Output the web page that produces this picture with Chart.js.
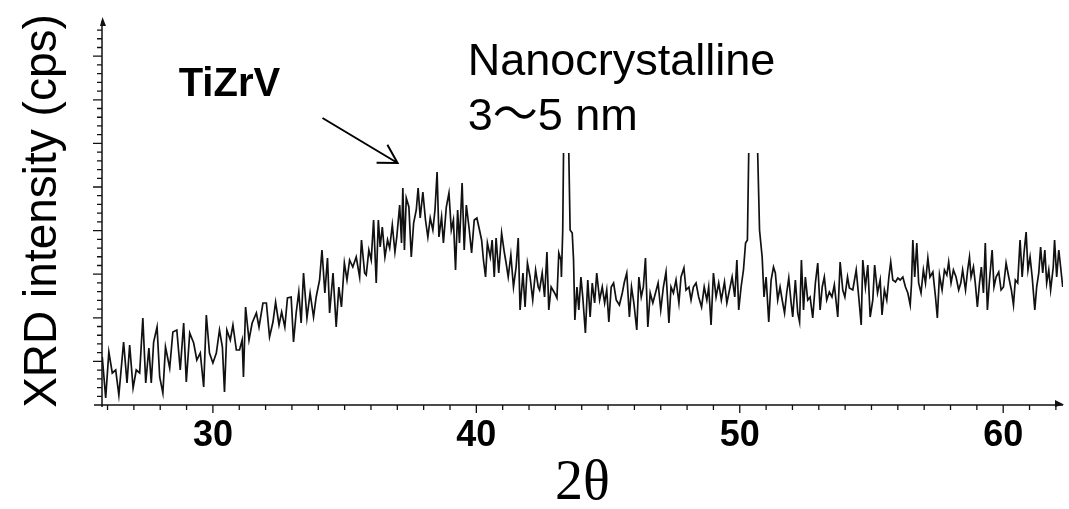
<!DOCTYPE html>
<html>
<head>
<meta charset="utf-8">
<script src="https://cdn.jsdelivr.net/npm/chart.js@4.4.1/dist/chart.umd.min.js"></script>
<style>
  html, body { margin: 0; padding: 0; background: #fff; }
  #wrap { width: 1069px; height: 509px; position: relative; }
</style>
</head>
<body>
<div id="wrap"><canvas id="c"></canvas></div>
<script>
// ---- data ----
const twoTheta = [
  25.80,25.93,26.05,26.18,26.31,26.43,26.61,26.74,26.84,26.97,27.09,27.22,27.34,27.45,27.57,27.66,27.75,27.88,27.98,28.10,
  28.20,28.36,28.48,28.63,28.76,28.89,28.99,29.12,29.27,29.39,29.52,29.65,29.75,29.87,30.00,30.13,30.25,30.36,30.44,30.53,
  30.66,30.76,30.89,31.01,31.11,31.16,31.24,31.37,31.49,31.65,31.75,31.90,32.03,32.15,32.28,32.38,32.51,32.61,32.73,32.83,
  32.97,33.06,33.16,33.26,33.35,33.44,33.57,33.69,33.82,33.92,34.05,34.14,34.25,34.35,34.43,34.56,34.68,34.78,34.88,34.99,
  35.09,35.19,35.31,35.44,35.57,35.64,35.76,
  35.82,35.92,36.01,36.10,36.20,36.28,36.35,36.43,36.53,36.63,36.71,36.81,36.91,36.98,37.09,37.16,37.21,37.27,37.34,37.44,
  37.53,37.62,37.72,37.79,37.87,37.97,38.07,38.16,38.25,38.35,38.43,38.51,38.58,38.68,38.75,38.86,38.96,39.05,39.13,39.21,
  39.29,39.36,39.46,39.54,39.62,39.72,39.82,39.92,40.02,40.12,40.20,40.27,40.35,40.42,40.53,40.60,40.68,40.75,40.85,40.96,
  41.06,41.13,41.21,41.31,41.41,41.51,41.59,41.66,41.77,41.85,41.94,42.04,42.14,42.25,42.35,
  42.40,42.50,42.59,42.68,42.75,42.84,42.97,43.06,43.13,43.21,43.23,43.28,43.31,43.41,43.51,43.56,43.64,43.69,43.74,43.82,
  43.89,43.97,44.04,44.14,44.23,44.32,44.40,44.49,44.57,44.68,44.78,44.87,44.95,45.03,45.12,45.21,45.31,45.43,45.54,45.62,
  45.71,45.81,45.89,45.98,46.09,46.17,46.26,46.34,46.42,46.51,46.60,46.70,46.80,46.90,47.00,47.10,47.20,47.31,47.39,47.48,
  47.58,47.69,47.77,47.88,47.96,48.07,48.15,48.24,48.34,48.44,48.55,48.65,48.75,48.82,48.91,49.00,49.10,49.20,49.30,49.42,
  49.51,49.61,49.71,49.81,49.89,49.96,50.05,50.14,50.22,50.29,50.34,50.51,50.68,50.75,
  50.85,50.92,51.00,51.10,51.19,51.28,51.35,51.44,51.53,51.61,51.70,51.78,51.86,51.95,52.01,52.11,52.20,52.27,52.34,52.42,
  52.49,52.58,52.67,52.77,52.87,52.96,53.05,53.13,53.21,53.30,53.40,53.50,53.59,53.72,53.81,53.91,53.99,54.09,
  54.16,54.29,54.42,54.52,54.61,54.67,54.77,54.86,54.95,55.05,55.12,55.23,55.33,55.40,55.49,55.58,55.66,55.73,55.81,55.91,
  56.00,56.09,56.19,56.29,56.38,56.47,56.52,56.57,56.64,56.72,56.79,56.88,56.97,57.05,57.14,57.22,57.33,57.43,57.50,57.58,
  57.68,57.77,57.86,57.93,58.02,58.11,58.21,58.31,58.39,58.46,58.57,58.65,58.72,58.78,58.87,58.94,59.02,59.10,59.17,59.25,
  59.32,59.40,59.48,59.58,59.65,59.73,59.83,59.92,60.01,60.11,60.21,60.31,60.39,60.46,60.55,60.64,60.72,60.79,60.87,60.94,
  61.02,61.10,61.20,61.27,61.35,61.42,61.50,61.58,61.65,61.73,61.80,61.90,61.95,62.03,62.11,62.18,62.26
];
const intensity = [
  48,7,53,32,35,10,63,22,60,17,35,32,87,22,57,22,63,78,28,12,
  58,37,73,75,35,82,23,72,62,45,52,18,90,52,42,52,75,58,13,75,
  65,80,55,55,65,28,98,65,82,92,78,102,102,68,83,103,80,93,78,107,
  108,63,92,113,82,132,87,112,88,108,125,155,112,147,92,132,78,118,98,142,
  125,145,138,148,128,165,132,
  130,155,145,185,122,185,158,178,148,165,157,180,153,168,200,162,217,155,207,198,
  148,182,195,217,187,213,185,168,187,175,195,233,168,188,162,198,212,175,185,135,
  195,162,222,155,200,178,152,185,187,175,165,145,128,162,148,165,128,167,132,172,
  153,142,128,150,118,138,167,95,132,98,142,128,105,135,118,
  115,132,108,153,95,118,112,107,152,145,128,175,252,null,252,175,172,145,85,118,
  95,128,108,72,125,88,122,102,132,105,118,102,115,83,118,122,105,100,112,123,
  132,88,118,102,75,128,108,118,147,78,112,102,112,122,95,118,133,82,118,112,
  125,102,128,137,115,118,105,118,122,108,98,118,105,118,80,132,108,122,105,123,
  102,115,128,108,145,95,118,135,162,165,252,null,252,175,
  148,108,128,83,125,138,132,105,118,105,92,112,127,102,88,125,92,83,145,95,
  128,105,108,87,122,142,95,118,128,105,113,108,120,88,143,115,108,128,
  117,115,135,107,80,145,118,140,88,105,140,112,125,90,115,105,128,143,125,123,
  127,125,128,118,112,100,122,165,128,162,122,112,135,122,147,128,133,108,87,130,
  115,135,130,143,122,135,128,115,122,135,115,135,148,128,138,122,98,122,138,112,
  162,95,125,155,118,128,133,115,118,142,128,115,100,125,122,165,128,152,173,135,
  148,128,95,118,132,158,132,155,122,135,115,138,165,128,155,138,118
];
const xMinorTicks = [26,27,28,29,30,31,32,33,34,35,36,37,38,39,40,41,42,43,44,45,46,47,48,49,50,51,52,53,54,55,56,57,58,59,60,61,62];
const xTickLabels = [30, 40, 50, 60];

// ---- annotation anchors (data coordinates) ----
const notes = [
  { text: 'TiZrV', x: 28.70, y: 309, font: 'bold 40px "Liberation Sans", Arial, sans-serif' },
  { text: 'Nanocrystalline', x: 39.67, y: 330, font: '45px "Liberation Sans", Arial, "Noto Sans CJK JP", sans-serif' },
  { text: '3\u301C5 nm', x: 39.67, y: 275, font: '45px "Liberation Sans", Arial, "Noto Sans CJK JP", sans-serif' }
];
const arrowNote = { from: { x: 34.16, y: 287 }, to: { x: 37.01, y: 242 } };

const points = twoTheta.map((t, i) => ({ x: t, y: intensity[i] }));
const Y_MINOR = 8.72;

const axesPlugin = {
  id: 'xrdAxes',
  afterDraw(chart) {
    const { ctx, chartArea: a, scales: { x, y } } = chart;
    ctx.save();
    ctx.strokeStyle = '#111';
    ctx.fillStyle = '#111';
    ctx.lineWidth = 1.5;
    ctx.beginPath();
    ctx.moveTo(a.left - 8, a.bottom); ctx.lineTo(a.right, a.bottom);
    ctx.moveTo(a.left, a.bottom + 2); ctx.lineTo(a.left, a.top + 4);
    ctx.stroke();
    ctx.lineWidth = 1.3;
    ctx.beginPath();
    x.ticks.forEach(t => {
      const px = x.getPixelForValue(t.value);
      const len = xTickLabels.includes(t.value) ? 8 : 5;
      ctx.moveTo(px, a.bottom); ctx.lineTo(px, a.bottom + len);
    });
    y.ticks.forEach(t => {
      const k = Math.round(t.value / Y_MINOR);
      if (Math.abs(t.value - k * Y_MINOR) > 0.05 || k === 0) return;
      const py = y.getPixelForValue(t.value);
      const len = k % 5 === 0 ? 9 : 5;
      ctx.moveTo(a.left, py); ctx.lineTo(a.left - len, py);
    });
    ctx.stroke();
    // axis arrow heads
    ctx.beginPath();
    ctx.moveTo(a.left + 0.5, a.top); ctx.lineTo(a.left - 2, a.top + 9); ctx.lineTo(a.left + 4, a.top + 9); ctx.closePath();
    ctx.fill();
    ctx.beginPath();
    ctx.moveTo(a.right + 1, a.bottom - 0.5); ctx.lineTo(a.right - 8, a.bottom - 5); ctx.lineTo(a.right - 8, a.bottom + 2); ctx.closePath();
    ctx.fill();
    // annotations
    ctx.fillStyle = '#000';
    ctx.textAlign = 'left';
    ctx.textBaseline = 'alphabetic';
    notes.forEach(n => {
      ctx.font = n.font;
      ctx.fillText(n.text, x.getPixelForValue(n.x), y.getPixelForValue(n.y));
    });
    const x1 = x.getPixelForValue(arrowNote.from.x), y1 = y.getPixelForValue(arrowNote.from.y);
    const x2 = x.getPixelForValue(arrowNote.to.x), y2 = y.getPixelForValue(arrowNote.to.y);
    const ang = Math.atan2(y2 - y1, x2 - x1);
    const hl = 21, spread = Math.PI / 6;
    ctx.strokeStyle = '#000';
    ctx.lineWidth = 2;
    ctx.beginPath();
    ctx.moveTo(x1, y1); ctx.lineTo(x2, y2);
    ctx.moveTo(x2 + hl * Math.cos(ang + Math.PI - spread), y2 + hl * Math.sin(ang + Math.PI - spread));
    ctx.lineTo(x2, y2);
    ctx.lineTo(x2 + hl * Math.cos(ang + Math.PI + spread), y2 + hl * Math.sin(ang + Math.PI + spread));
    ctx.stroke();
    ctx.restore();
  }
};

new Chart(document.getElementById('c'), {
  type: 'line',
  data: {
    datasets: [{
      data: points,
      borderColor: '#111',
      borderWidth: 1.7,
      pointRadius: 0,
      tension: 0,
      spanGaps: false,
      fill: false
    }]
  },
  options: {
    responsive: true,
    maintainAspectRatio: false,
    animation: false,
    events: [],
    layout: { padding: { top: 17, right: 6, left: 0, bottom: 0 } },
    plugins: { legend: { display: false }, tooltip: { enabled: false } },
    scales: {
      x: {
        type: 'linear',
        min: 25.79,
        max: 62.27,
        afterBuildTicks: s => { s.ticks = xMinorTicks.map(v => ({ value: v })); },
        afterFit: s => { s.height = 104; },
        grid: { display: true, drawOnChartArea: false, drawTicks: true, tickLength: 8, color: 'rgba(0,0,0,0)' },
        border: { display: false },
        ticks: {
          autoSkip: false,
          maxRotation: 0,
          padding: 1,
          color: '#000',
          font: { family: '"Liberation Sans", Arial, sans-serif', size: 36, weight: 'bold' },
          callback: v => (xTickLabels.includes(v) ? String(v) : '')
        },
        title: {
          display: true,
          text: '2\u03B8',
          color: '#000',
          font: { family: '"Liberation Serif", "Times New Roman", serif', size: 56, lineHeight: 0.9 },
          padding: { top: 0, bottom: 0 }
        }
      },
      y: {
        type: 'linear',
        min: 0,
        max: 388,
        afterFit: s => { s.width = 102; },
        grid: { display: false },
        border: { display: false },
        ticks: { display: false, stepSize: Y_MINOR },
        title: {
          display: true,
          text: 'XRD intensity (cps)',
          color: '#000',
          font: { family: '"Liberation Sans", Arial, sans-serif', size: 46, lineHeight: 1.2 },
          padding: { top: 16, bottom: 0 }
        }
      }
    }
  },
  plugins: [axesPlugin]
});
</script>
</body>
</html>
